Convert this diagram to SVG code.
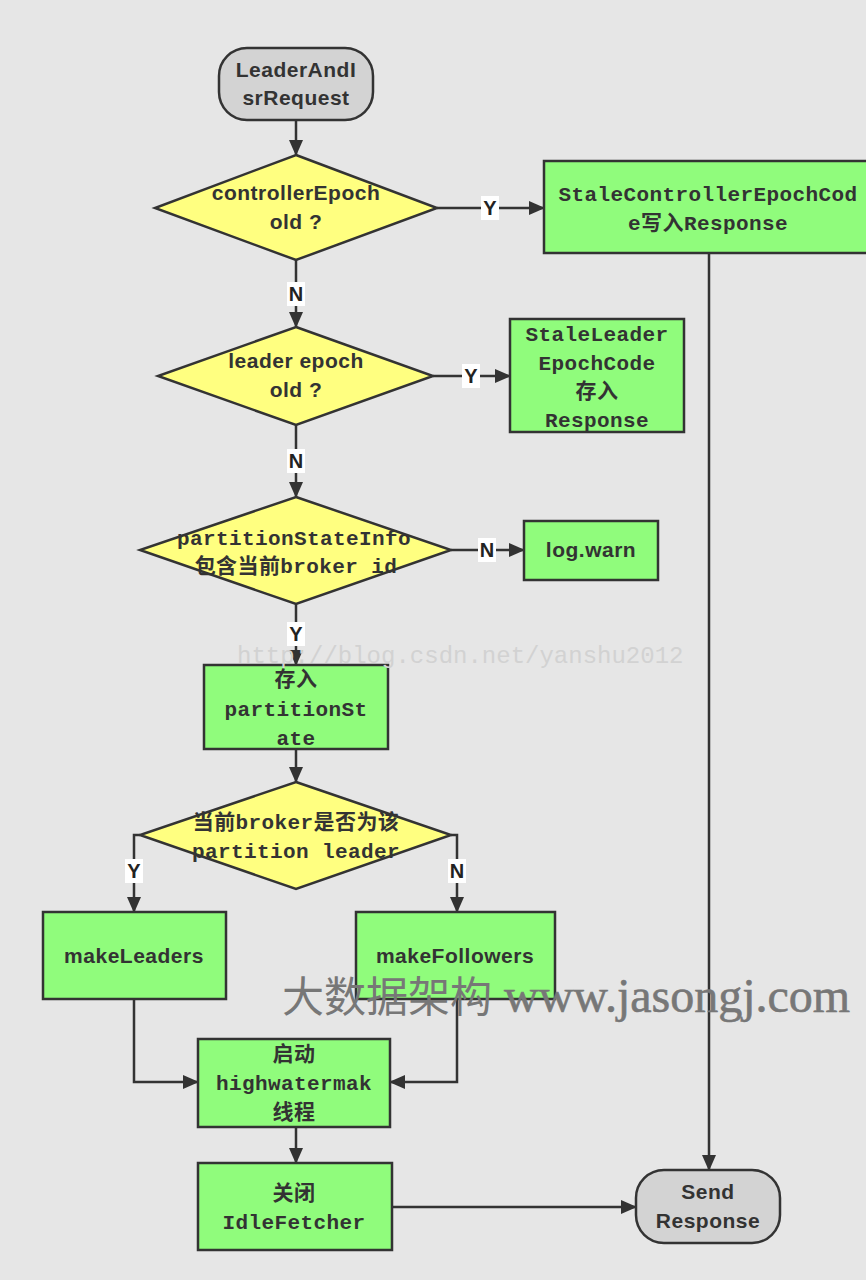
<svg xmlns="http://www.w3.org/2000/svg" width="866" height="1280" viewBox="0 0 866 1280">
<defs>
<style>
.bg{fill:#e6e6e6}
.term{fill:#d3d3d3;stroke:#333;stroke-width:2.5}
.dec{fill:#ffff80;stroke:#333;stroke-width:2.5}
.proc{fill:#90fc7c;stroke:#333;stroke-width:2.5}
.edge{fill:none;stroke:#333;stroke-width:2.5}
.sans{font-family:"Liberation Sans",Arial,"Noto Sans CJK SC",sans-serif;font-weight:bold;font-size:21px;fill:#333;text-anchor:middle;letter-spacing:0.5px}
.mono{font-family:"Liberation Mono","Noto Sans CJK SC",monospace;font-weight:bold;font-size:21px;fill:#333;text-anchor:middle;letter-spacing:0.4px}
.lbl{font-family:"Liberation Sans",Arial,sans-serif;font-weight:bold;font-size:20px;fill:#222;text-anchor:middle}
.lblbg{fill:#fff}
</style>
<marker id="arr" viewBox="0 0 16 14" refX="15" refY="7" markerWidth="16" markerHeight="14" markerUnits="userSpaceOnUse" orient="auto">
<path d="M0,0 L16,7 L0,14 z" fill="#333"/>
</marker>
</defs>
<rect class="bg" x="0" y="0" width="866" height="1280"/>

<g id="connectors">
<path class="edge" d="M296,120 V155" marker-end="url(#arr)"/>
<path class="edge" d="M437,208 H544" marker-end="url(#arr)"/>
<path class="edge" d="M709,253 V1170" marker-end="url(#arr)"/>
<path class="edge" d="M296,260 V327" marker-end="url(#arr)"/>
<path class="edge" d="M433,376 H510" marker-end="url(#arr)"/>
<path class="edge" d="M296,425 V497" marker-end="url(#arr)"/>
<path class="edge" d="M451,550 H524" marker-end="url(#arr)"/>
<path class="edge" d="M296,604 V665" marker-end="url(#arr)"/>
<path class="edge" d="M296,749 V782" marker-end="url(#arr)"/>
<path class="edge" d="M140,835 H134 V912" marker-end="url(#arr)"/>
<path class="edge" d="M451,835 H457 V912" marker-end="url(#arr)"/>
<path class="edge" d="M134,999 V1082 H198" marker-end="url(#arr)"/>
<path class="edge" d="M457,999 V1082 H390" marker-end="url(#arr)"/>
<path class="edge" d="M296,1127 V1163" marker-end="url(#arr)"/>
<path class="edge" d="M392,1207 H636" marker-end="url(#arr)"/>
<rect class="lblbg" x="481" y="196" width="18" height="24"/>
<text class="lbl" x="490" y="215">Y</text>
<rect class="lblbg" x="287" y="282" width="18" height="24"/>
<text class="lbl" x="296" y="301">N</text>
<rect class="lblbg" x="462" y="364" width="18" height="24"/>
<text class="lbl" x="471" y="383">Y</text>
<rect class="lblbg" x="287" y="449" width="18" height="24"/>
<text class="lbl" x="296" y="468">N</text>
<rect class="lblbg" x="478" y="538" width="18" height="24"/>
<text class="lbl" x="487" y="557">N</text>
<rect class="lblbg" x="287" y="622" width="18" height="24"/>
<text class="lbl" x="296" y="641">Y</text>
<rect class="lblbg" x="125" y="859" width="18" height="24"/>
<text class="lbl" x="134" y="878">Y</text>
<rect class="lblbg" x="448" y="859" width="18" height="24"/>
<text class="lbl" x="457" y="878">N</text>
</g>

<g id="start">
<rect class="term" x="219" y="48" width="154" height="72" rx="28" ry="28"/>
<text class="sans" x="296" y="77">LeaderAndI</text>
<text class="sans" x="296" y="105">srRequest</text>
</g>

<g id="d1">
<polygon class="dec" points="296,155 437,208 296,260 155,208"/>
<text class="sans" x="296" y="200">controllerEpoch</text>
<text class="sans" x="296" y="229">old ?</text>
</g>

<g id="staleController">
<rect class="proc" x="544" y="161" width="324" height="92"/>
<text class="mono" x="708" y="201">StaleControllerEpochCod</text>
<text class="mono" x="708" y="230">e写入Response</text>
</g>

<g id="d2">
<polygon class="dec" points="296,327 433,376 296,425 158,376"/>
<text class="sans" x="296" y="368" letter-spacing="0">leader epoch</text>
<text class="sans" x="296" y="397">old ?</text>
</g>

<g id="staleLeader">
<rect class="proc" x="510" y="319" width="174" height="113"/>
<text class="mono" x="597" y="341">StaleLeader</text>
<text class="mono" x="597" y="370">EpochCode</text>
<text class="mono" x="597" y="398">存入</text>
<text class="mono" x="597" y="427">Response</text>
</g>

<g id="d3">
<polygon class="dec" points="296,497 451,550 296,604 140,550"/>
<text class="mono" x="294" y="545">partitionStateInfo</text>
<text class="mono" x="296" y="573">包含当前broker id</text>
</g>

<g id="logwarn">
<rect class="proc" x="524" y="521" width="134" height="59"/>
<text class="sans" x="591" y="557">log.warn</text>
</g>

<g id="storeState">
<rect class="proc" x="204" y="665" width="184" height="84"/>
<text class="mono" x="296" y="686">存入</text>
<text class="mono" x="296" y="716">partitionSt</text>
<text class="mono" x="296" y="745">ate</text>
</g>

<g id="d4">
<polygon class="dec" points="296,782 451,835 296,889 140,835"/>
<text class="mono" x="296" y="829">当前broker是否为该</text>
<text class="mono" x="296" y="858">partition leader</text>
</g>

<g id="makeLeaders">
<rect class="proc" x="43" y="912" width="183" height="87"/>
<text class="sans" x="134" y="963">makeLeaders</text>
</g>

<g id="makeFollowers">
<rect class="proc" x="356" y="912" width="199" height="87"/>
<text class="sans" x="455" y="963">makeFollowers</text>
</g>

<g id="startHW">
<rect class="proc" x="198" y="1039" width="192" height="88"/>
<text class="mono" x="294" y="1061">启动</text>
<text class="mono" x="294" y="1090">highwatermak</text>
<text class="mono" x="294" y="1119">线程</text>
</g>

<g id="closeIdle">
<rect class="proc" x="198" y="1163" width="194" height="87"/>
<text class="mono" x="294" y="1200">关闭</text>
<text class="mono" x="294" y="1229">IdleFetcher</text>
</g>

<g id="sendResponse">
<rect class="term" x="636" y="1170" width="144" height="73" rx="28" ry="28"/>
<text class="sans" x="708" y="1199">Send</text>
<text class="sans" x="708" y="1228">Response</text>
</g>

<g id="watermarks">
<text x="237" y="663" font-family="Liberation Mono,monospace" font-size="24" fill="#d2d2d2">http://blog.csdn.net/yanshu2012</text>
<text x="282" y="1012" fill="#777"><tspan font-family="Noto Sans CJK SC,sans-serif" font-size="42">大数据架构</tspan><tspan font-family="Liberation Serif,serif" font-size="48" dx="12" stroke="#777" stroke-width="0.6">www.jasongj.com</tspan></text>
</g>
</svg>
